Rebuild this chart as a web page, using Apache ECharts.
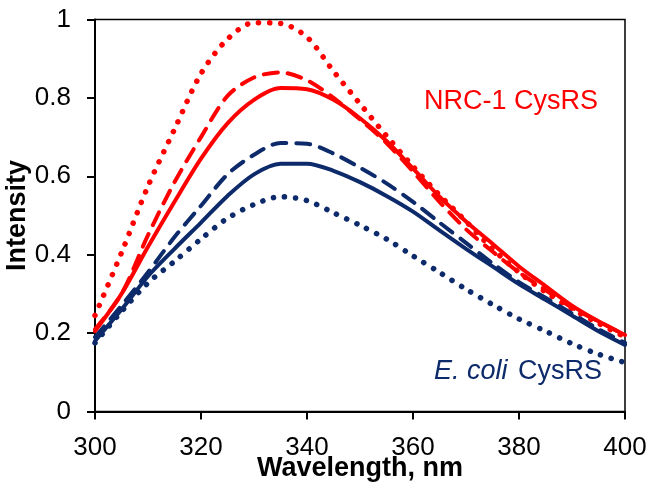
<!DOCTYPE html>
<html>
<head>
<meta charset="utf-8">
<script src="https://cdn.jsdelivr.net/npm/echarts@6/dist/echarts.min.js"></script>
<style>html,body{margin:0;padding:0;background:#fff;}#c{width:656px;height:491px;}</style>
</head>
<body>
<div id="c"></div>
<script>
const wavelengths = [300,305,310,315,320,325,330,335,340,345,350,355,360,365,370,375,380,385,390,395,400];
const nrcSolid  = [0.205,0.30,0.42,0.535,0.645,0.735,0.795,0.825,0.822,0.795,0.748,0.69,0.62,0.548,0.485,0.428,0.37,0.32,0.27,0.23,0.195];
const nrcDashed = [0.21,0.30,0.45,0.585,0.70,0.805,0.852,0.865,0.845,0.80,0.745,0.685,0.612,0.535,0.465,0.408,0.355,0.31,0.265,0.23,0.195];
const nrcDotted = [0.245,0.405,0.575,0.72,0.862,0.95,0.992,0.99,0.955,0.868,0.785,0.703,0.625,0.552,0.485,0.415,0.355,0.305,0.262,0.225,0.19];
const ecoSolid  = [0.18,0.26,0.345,0.415,0.482,0.55,0.605,0.632,0.632,0.614,0.585,0.55,0.51,0.462,0.415,0.37,0.325,0.285,0.245,0.205,0.17];
const ecoDashed = [0.19,0.27,0.355,0.445,0.525,0.605,0.655,0.685,0.683,0.658,0.622,0.582,0.535,0.482,0.43,0.378,0.33,0.29,0.25,0.21,0.175];
const ecoDotted = [0.175,0.255,0.328,0.383,0.44,0.493,0.528,0.548,0.538,0.507,0.475,0.44,0.397,0.355,0.312,0.273,0.236,0.205,0.173,0.146,0.125];
const xTicks = [300,320,340,360,380,400];
const yTicks = [0,0.2,0.4,0.6,0.8,1];

const RED = '#FF0000', NAVY = '#0D2A6B';
const FONT = '"Liberation Sans", Arial, sans-serif';
const pairs = ys => wavelengths.map((x,i)=>[x, ys[i]]);
function mk(name, ys, color, kind){
  let ls = {color, width:4, cap:'round', join:'round'};
  if (kind==='dashed') ls.type = [14, 10];
  if (kind==='dotted') { ls.type = [0.1, 11]; ls.width = 5.5; }
  return {name, type:'line', data:pairs(ys), smooth:0.3, showSymbol:false, symbol:'none', lineStyle:ls, z: kind==='solid'?3:2, animation:false};
}
const chart = echarts.init(document.getElementById('c'), null, {renderer:'canvas'});
chart.setOption({
  animation:false,
  backgroundColor:'#fff',
  grid:{left:95, top:19.5, right:31, bottom:79.5, show:true, borderColor:'#000', borderWidth:1.5, outerBoundsMode:'none', containLabel:false},
  xAxis:{type:'value', min:300, max:400, interval:20,
    name:'Wavelength, nm', nameLocation:'middle', nameGap:44, nameMoveOverlap:false,
    nameTextStyle:{fontFamily:FONT, fontWeight:'bold', fontSize:27, color:'#000'},
    axisLine:{show:true, onZero:false, lineStyle:{color:'#000', width:2}},
    axisTick:{show:true, inside:false, length:8, lineStyle:{color:'#000', width:2}},
    axisLabel:{fontFamily:FONT, fontSize:26, color:'#000', margin:23,
      formatter: v => xTicks.includes(v) ? String(v) : ''},
    splitLine:{show:false}},
  yAxis:{type:'value', min:0, max:1, interval:0.2,
    name:'Intensity', nameLocation:'middle', nameGap:64, nameMoveOverlap:false,
    nameTextStyle:{fontFamily:FONT, fontWeight:'bold', fontSize:27, color:'#000'},
    axisLine:{show:true, onZero:false, lineStyle:{color:'#000', width:2}},
    axisTick:{show:true, inside:false, length:8, lineStyle:{color:'#000', width:2}},
    axisLabel:{fontFamily:FONT, fontSize:26, color:'#000', margin:24,
      formatter: v => { const t = yTicks.find(t=>Math.abs(t-v)<1e-9); return t===undefined ? '' : String(+t.toFixed(1)); }},
    splitLine:{show:false}},
  series:[
    mk('NRC-1 dotted', nrcDotted, RED, 'dotted'),
    mk('NRC-1 dashed', nrcDashed, RED, 'dashed'),
    mk('E. coli dotted', ecoDotted, NAVY, 'dotted'),
    mk('E. coli dashed', ecoDashed, NAVY, 'dashed'),
    mk('E. coli solid', ecoSolid, NAVY, 'solid'),
    mk('NRC-1 solid', nrcSolid, RED, 'solid')
  ],
  graphic:[
    {type:'text', left:424, top:88, style:{text:'NRC-1 CysRS', fill:RED, font:'27px "Liberation Sans", Arial'}},
    {type:'text', left:434, top:358, style:{
      text:'{i|E. coli}{n| CysRS}', fill:NAVY,
      rich:{i:{fontStyle:'italic', fontSize:27, fontFamily:'Liberation Sans', fill:NAVY, color:NAVY, padding:[0,3,0,0]},
            n:{fontSize:27, fontFamily:'Liberation Sans', fill:NAVY, color:NAVY}}}}
  ]
});
</script>
</body>
</html>
